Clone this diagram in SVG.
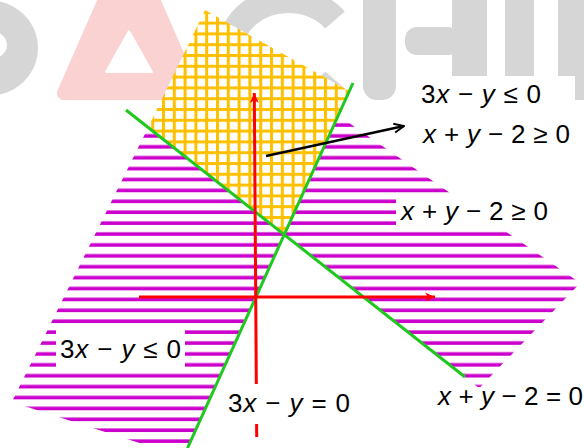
<svg xmlns="http://www.w3.org/2000/svg" width="584" height="448" viewBox="0 0 584 448">
<style>
.wm{fill:#d6d6d6}
.tx{font-family:"Liberation Sans",Arial,sans-serif;font-size:26px;fill:#000}
.it{font-style:italic}
.box{fill:#fff}
.green{stroke:#1ec81e;stroke-width:3;fill:none}
.axis{stroke:#ff0000;stroke-width:3;fill:none}
</style>
<defs>
<pattern id="stripes" patternUnits="userSpaceOnUse" width="20" height="10.9"><rect y="3.35" width="20" height="3.6" fill="#cc00cc"/></pattern>
<pattern id="grid" patternUnits="userSpaceOnUse" width="10.8" height="10.8"><rect width="10.8" height="10.8" fill="#fff"/><rect width="3" height="10.8" fill="#ffc000"/><rect width="10.8" height="3" fill="#ffc000"/></pattern>
<marker id="redHead" markerUnits="userSpaceOnUse" viewBox="0 0 11 10" refX="10" refY="5" markerWidth="11" markerHeight="10" orient="auto"><path d="M0,0.5 L10,5 L0,9.5 L3,5 Z" fill="#ff0000"/></marker>
<marker id="blackHead" markerUnits="userSpaceOnUse" viewBox="0 0 12 12" refX="11" refY="6" markerWidth="12" markerHeight="12" orient="auto"><path d="M1,1.5 L11,6 L1,10.5" fill="none" stroke="#000" stroke-width="2"/></marker>
</defs>
<rect width="584" height="448" fill="#fff"/>
<g id="watermark">
<path class="wm" fill-rule="evenodd" d="M-62,48 A50,48 0 1,0 38,48 A50,48 0 1,0 -62,48 Z M-31,45 A19,15 0 1,0 7,45 A19,15 0 1,0 -31,45 Z"/>
<path d="M64,93 L194,93 L129,-55 Z" fill="#fad2d2" stroke="#fad2d2" stroke-width="14" stroke-linejoin="round"/>
<path d="M106,72 L152,72 L129,31 Z" fill="#fff" stroke="#fff" stroke-width="2" stroke-linejoin="round"/>
<path d="M335,20 A58,50 0 1,0 335,80" fill="none" stroke="#d6d6d6" stroke-width="26"/>
<rect class="wm" x="363" y="-20" width="33" height="120" rx="14"/>
<rect class="wm" x="405" y="27" width="55" height="28" rx="12"/>
<rect class="wm" x="452" y="-20" width="35" height="110"/>
<rect class="wm" x="505" y="-20" width="29" height="110"/>
<rect class="wm" x="558" y="-20" width="40" height="120" rx="12"/>
</g>
<g id="region-union">
<path d="M152.9,118 L338.3,115.5 L580.2,283 L479.2,388.2 L284.2,234.6 L187.5,448 L155,448 L11.8,401.9 Z" fill="url(#stripes)"/>
</g>
<g id="region-intersection">
<path d="M205,10 L349,91 L284.2,234.6 L148.2,127.5 Z" fill="url(#grid)"/>
</g>
<g id="connectors">
<line class="green" x1="126" y1="110" x2="465" y2="377"/>
<line class="green" x1="353" y1="83" x2="187.5" y2="448"/>
<line class="axis" x1="139" y1="297" x2="435" y2="297" marker-end="url(#redHead)"/>
<line class="axis" x1="256.7" y1="437" x2="254.3" y2="93" marker-end="url(#redHead)"/>
<line x1="266" y1="156" x2="404" y2="126" stroke="#000" stroke-width="2.5" marker-end="url(#blackHead)"/>
</g>
<g id="label-system">
<rect class="box" x="406" y="76" width="169" height="76"/>
<text class="tx" x="421" y="103" textLength="120" lengthAdjust="spacing">3<tspan class="it">x</tspan> − <tspan class="it">y</tspan> ≤ 0</text>
<text class="tx" x="423" y="143" textLength="147" lengthAdjust="spacing"><tspan class="it">x</tspan> + <tspan class="it">y</tspan> − 2 ≥ 0</text>
</g>
<g id="label-right">
<rect class="box" x="396" y="194" width="168" height="37"/>
<text class="tx" x="401" y="219.5" textLength="147" lengthAdjust="spacing"><tspan class="it">x</tspan> + <tspan class="it">y</tspan> − 2 ≥ 0</text>
</g>
<g id="label-left">
<rect class="box" x="56" y="324.5" width="129" height="47"/>
<text class="tx" x="60" y="358" textLength="121" lengthAdjust="spacing">3<tspan class="it">x</tspan> − <tspan class="it">y</tspan> ≤ 0</text>
</g>
<g id="label-line2">
<rect class="box" x="222" y="384" width="133" height="40"/>
<text class="tx" x="228" y="411.5" textLength="122" lengthAdjust="spacing">3<tspan class="it">x</tspan> − <tspan class="it">y</tspan> = 0</text>
</g>
<g id="label-line1">
<rect class="box" x="432" y="387" width="152" height="38"/>
<text class="tx" x="438" y="405" textLength="145" lengthAdjust="spacing"><tspan class="it">x</tspan> + <tspan class="it">y</tspan> − 2 = 0</text>
</g>
</svg>
